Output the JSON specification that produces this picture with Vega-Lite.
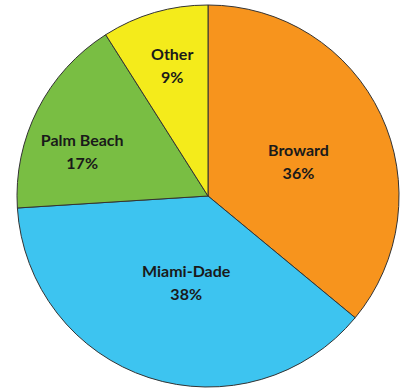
{
  "$schema": "https://vega.github.io/schema/vega-lite/v6.json",
  "autosize": "none",
  "padding": 0,
  "width": 416,
  "height": 392,
  "background": "white",
  "view": {"stroke": null},
  "data": {
    "values": [
      {"county": "Broward", "value": 36, "order": 1, "label": "Broward\n36%"},
      {"county": "Miami-Dade", "value": 38, "order": 2, "label": "Miami-Dade\n38%"},
      {"county": "Palm Beach", "value": 17, "order": 3, "label": "Palm Beach\n17%"},
      {"county": "Other", "value": 9, "order": 4, "label": "Other\n9%"}
    ]
  },
  "encoding": {
    "theta": {"field": "value", "type": "quantitative", "stack": true},
    "order": {"field": "order", "type": "quantitative"}
  },
  "layer": [
    {
      "mark": {"type": "arc", "outerRadius": 191, "stroke": "#333333", "strokeWidth": 1},
      "encoding": {
        "color": {
          "field": "county",
          "type": "nominal",
          "scale": {
            "domain": ["Broward", "Miami-Dade", "Palm Beach", "Other"],
            "range": ["#F7941D", "#3DC4F0", "#79BE43", "#F4EB1B"]
          },
          "legend": null
        }
      }
    },
    {
      "mark": {"type": "text", "radius": 90, "dx": 9, "dy": -7, "font": "Lato", "fontSize": 16, "fontWeight": "bold", "fill": "#1a1a1a", "lineBreak": "\n", "lineHeight": 23, "align": "center", "baseline": "middle"},
      "encoding": {
        "text": {"condition": {"test": "datum.county === 'Broward'", "field": "label"}, "value": ""}
      }
    },
    {
      "mark": {"type": "text", "radius": 90, "dx": 6, "dy": -10, "font": "Lato", "fontSize": 16, "fontWeight": "bold", "fill": "#1a1a1a", "lineBreak": "\n", "lineHeight": 23, "align": "center", "baseline": "middle"},
      "encoding": {
        "text": {"condition": {"test": "datum.county === 'Miami-Dade'", "field": "label"}, "value": ""}
      }
    },
    {
      "mark": {"type": "text", "radius": 130, "dx": -10, "dy": 4, "font": "Lato", "fontSize": 16, "fontWeight": "bold", "fill": "#1a1a1a", "lineBreak": "\n", "lineHeight": 23, "align": "center", "baseline": "middle"},
      "encoding": {
        "text": {"condition": {"test": "datum.county === 'Palm Beach'", "field": "label"}, "value": ""}
      }
    },
    {
      "mark": {"type": "text", "radius": 132, "dx": 1, "dy": -14, "font": "Lato", "fontSize": 16, "fontWeight": "bold", "fill": "#1a1a1a", "lineBreak": "\n", "lineHeight": 23, "align": "center", "baseline": "middle"},
      "encoding": {
        "text": {"condition": {"test": "datum.county === 'Other'", "field": "label"}, "value": ""}
      }
    }
  ]
}
